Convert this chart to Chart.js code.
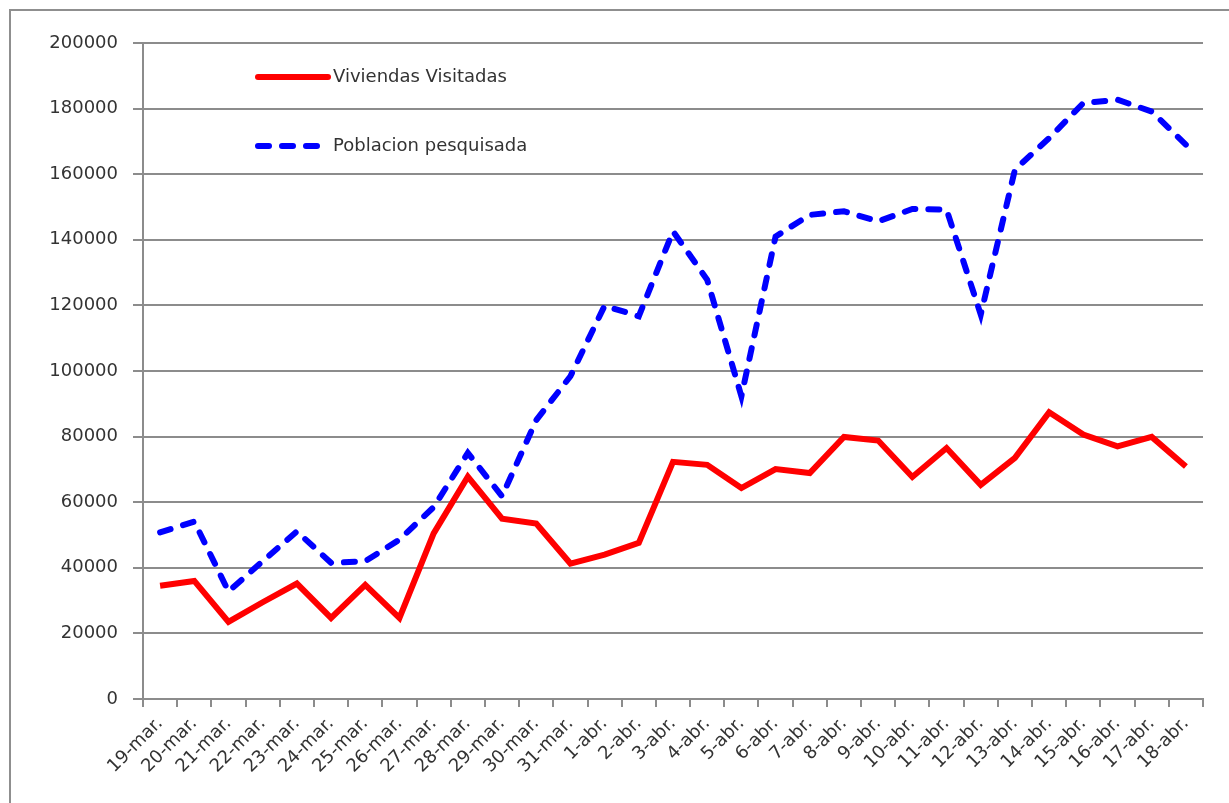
<!DOCTYPE html>
<html>
<head>
  <title>Viviendas visitadas y poblacion pesquisada</title>
  <script src="https://cdn.jsdelivr.net/npm/chart.js"></script>
  <style>
    body { margin: 0; background: #fff; overflow: hidden; }
    #frame { position: absolute; left: 9px; top: 9px; width: 1240px; height: 820px; border: 2px solid #8f8f8f; pointer-events: none; }
    canvas { position: absolute; left: 0; top: 0; }
  </style>
</head>
<body>
  <div id="frame"></div>
  <canvas id="chart" width="1229" height="803"></canvas>
  <script>
    const fechas = [
      '19-mar.', '20-mar.', '21-mar.', '22-mar.', '23-mar.', '24-mar.', '25-mar.', '26-mar.',
      '27-mar.', '28-mar.', '29-mar.', '30-mar.', '31-mar.',
      '1-abr.', '2-abr.', '3-abr.', '4-abr.', '5-abr.', '6-abr.', '7-abr.', '8-abr.', '9-abr.',
      '10-abr.', '11-abr.', '12-abr.', '13-abr.', '14-abr.', '15-abr.', '16-abr.', '17-abr.', '18-abr.'
    ];
    const viviendas = [34500, 36000, 23500, 29500, 35200, 24700, 34800, 24700, 50500, 67800, 55000,
      53500, 41300, 44000, 47600, 72300, 71400, 64300, 70100, 68900, 79900, 78800, 67700, 76500,
      65300, 73500, 87400, 80600, 77000, 79900, 70900];
    const poblacion = [50800, 54100, 32800, 42000, 51100, 41500, 42000, 48600, 58500, 75000, 61800,
      85000, 98400, 119900, 116700, 142600, 127800, 92300, 141000, 147600, 148700, 145600, 149400,
      149200, 117200, 161400, 171000, 181700, 182700, 179100, 169000];

    const fuente = 'DejaVu Sans';
    const gris = '#8c8c8c';

    // leyenda dentro del area del grafico, arriba a la izquierda
    const leyenda = {
      id: 'leyenda',
      afterDraw(chart) {
        const ctx = chart.ctx;
        const a = chart.chartArea;
        chart.data.datasets.forEach((ds, i) => {
          const y = a.top + 34 + i * 69;
          const x0 = a.left + 115;
          ctx.save();
          ctx.strokeStyle = ds.borderColor;
          ctx.lineWidth = ds.borderWidth;
          ctx.lineCap = 'round';
          ctx.setLineDash(ds.borderDash || []);
          ctx.beginPath();
          ctx.moveTo(x0, y);
          ctx.lineTo(x0 + 70, y);
          ctx.stroke();
          ctx.setLineDash([]);
          ctx.fillStyle = '#333';
          ctx.font = '18px "' + fuente + '"';
          ctx.textBaseline = 'middle';
          ctx.fillText(ds.label, x0 + 75, y);
          ctx.restore();
        });
      }
    };

    new Chart(document.getElementById('chart'), {
      type: 'line',
      data: {
        labels: fechas,
        datasets: [
          {
            label: 'Viviendas Visitadas',
            data: viviendas,
            borderColor: '#ff0000',
            borderWidth: 6,
            borderJoinStyle: 'miter',
            pointRadius: 0,
            tension: 0,
            fill: false
          },
          {
            label: 'Poblacion pesquisada',
            data: poblacion,
            borderColor: '#0000ff',
            borderWidth: 6,
            borderDash: [11, 13],
            borderCapStyle: 'round',
            pointRadius: 0,
            tension: 0,
            fill: false
          }
        ]
      },
      options: {
        responsive: false,
        animation: false,
        layout: { padding: { top: 43, right: 26, left: 0, bottom: 0 } },
        plugins: { legend: { display: false }, tooltip: { enabled: false } },
        scales: {
          x: {
            offset: true,
            afterFit(s) { s.height = 104; },
            grid: { offset: true, drawOnChartArea: false, color: gris, lineWidth: 2, tickLength: 8 },
            border: { color: gris, width: 2 },
            ticks: {
              autoSkip: false, maxRotation: 45, minRotation: 45, padding: 6,
              color: '#333', font: { family: fuente, size: 18 }
            }
          },
          y: {
            min: 0,
            max: 200000,
            afterFit(s) { s.width = 143; },
            grid: { color: gris, lineWidth: 2, tickLength: 10 },
            border: { color: gris, width: 2 },
            ticks: {
              stepSize: 20000, padding: 15,
              color: '#333', font: { family: fuente, size: 18 },
              callback: v => String(v)
            }
          }
        }
      },
      plugins: [leyenda]
    });
  </script>
</body>
</html>
